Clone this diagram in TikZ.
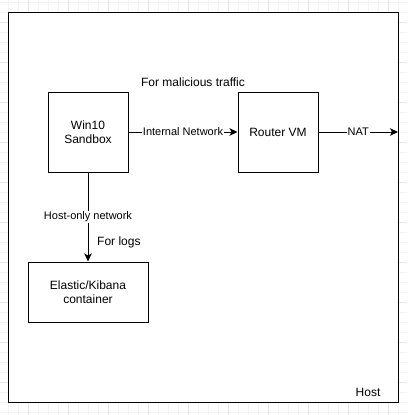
\documentclass[tikz,border=0pt]{standalone}
\usepackage{fontspec}
\setmainfont{Liberation Sans}
\usetikzlibrary{arrows.meta,positioning}
\definecolor{gridmin}{HTML}{F4F4F4}
\definecolor{gridmaj}{HTML}{E6E6E6}

\begin{document}
\begin{tikzpicture}[x=1pt,y=-1pt,>={Stealth[length=8pt,width=7.5pt,inset=2pt]},
  box/.style={draw,line width=1pt,minimum width=80pt,minimum height=80pt,align=center,inner sep=0pt,font=\fontsize{12}{14}\selectfont},
  lbl/.style={fill=white,inner sep=1pt,font=\fontsize{11}{13}\selectfont},
  note/.style={inner sep=0pt,font=\fontsize{12}{14}\selectfont}]
\useasboundingbox (0,0) rectangle (407,415);
% background grid
\foreach \x in {8,18,...,407} \draw[gridmin] (\x,0) -- (\x,415);
\foreach \y in {2,12,...,415} \draw[gridmin] (0,\y) -- (407,\y);
\foreach \x in {28,68,...,407} \draw[gridmaj] (\x,0) -- (\x,415);
\foreach \y in {22,62,...,415} \draw[gridmaj] (0,\y) -- (407,\y);
% host
\node[draw,line width=1pt,fill=white,minimum width=390pt,minimum height=390pt] (host) at (203,207) {};
\node[note] (hostlbl) at (368,392) {Host};
% machines
\node[box] (win) at (88,132) {Win10\\Sandbox};
\node[box] (router) at (278,132) {Router VM};
\node[box,minimum width=120pt,minimum height=60pt] (elastic) at (88,292) {Elastic/Kibana\\container};
\coordinate (out) at (398,132);
% links
\draw[->,line width=1pt] (win) -- node[lbl] {Internal Network} (router);
\draw[->,line width=1pt] (router) -- node[lbl] {NAT} (out);
\draw[->,line width=1pt] (win) -- node[lbl] {Host-only network} (elastic);
\node[note] (malnote) at (193,82) {For malicious traffic};
\node[note,anchor=west] (lognote) at (97,242) {For logs};
\end{tikzpicture}
\end{document}
